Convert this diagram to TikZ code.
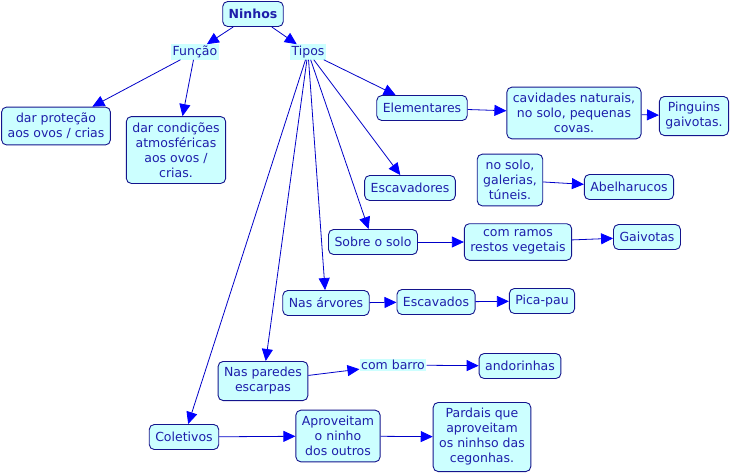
\documentclass[tikz,border=0pt]{standalone}
\usepackage{fontspec}
\setmainfont{DejaVu Sans}
\usetikzlibrary{arrows.meta}
\definecolor{txtblue}{RGB}{30,30,170}
\definecolor{boxline}{RGB}{20,20,140}
\definecolor{boxfill}{RGB}{204,255,255}
\definecolor{linkblue}{RGB}{0,0,200}
\tikzset{
  box/.style={draw=boxline,fill=boxfill,rounded corners=5pt,line width=0.9pt,
    text=txtblue,align=center,inner xsep=6pt,inner ysep=6pt,minimum height=25pt,
    font=\fontsize{12.5}{15}\selectfont},
  lab/.style={fill=boxfill,text=txtblue,inner sep=1.5pt,
    font=\fontsize{12.5}{15}\selectfont},
  link/.style={draw=linkblue,line width=0.8pt,
    -{Triangle[length=12pt,width=11pt,fill=blue,color=blue]}}
}

\begin{document}
\begin{tikzpicture}[x=1pt,y=-1pt]
\useasboundingbox (0,0) rectangle (732,475);
\node[box,font=\fontsize{12.5}{15}\selectfont\bfseries] (ninhos) at (253,14) {Ninhos};
\node[lab] (funcao) at (195,52) {Função};
\node[lab] (tipos) at (308,52) {Tipos};
\node[box] (protecao) at (56,126) {dar proteção\\aos ovos / crias};
\node[box] (condicoes) at (176,150) {dar condições\\atmosféricas\\aos ovos /\\crias.};
\node[box] (element) at (422,108) {Elementares};
\node[box] (cavidades) at (574,113) {cavidades naturais,\\no solo, pequenas\\covas.};
\node[box] (pinguins) at (694,116) {Pinguins\\gaivotas.};
\node[box] (escavadores) at (410,188) {Escavadores};
\node[box] (galerias) at (510,180) {no solo,\\galerias,\\túneis.};
\node[box] (abelh) at (629,187) {Abelharucos};
\node[box] (sobre) at (373,242) {Sobre o solo};
\node[box] (ramos) at (518,242) {com ramos\\restos vegetais};
\node[box] (gaiv) at (647,237) {Gaivotas};
\node[box] (arvores) at (326,303) {Nas árvores};
\node[box] (escavados) at (436,302) {Escavados};
\node[box] (picapau) at (542,301) {Pica-pau};
\node[box] (paredes) at (263,381) {Nas paredes\\escarpas};
\node[lab] (barro) at (393,365) {com barro};
\node[box] (andor) at (520,366) {andorinhas};
\node[box] (coletivos) at (184,437) {Coletivos};
\node[box] (aprov) at (338,436) {Aproveitam\\o ninho\\dos outros};
\node[box] (pardais) at (482,437) {Pardais que\\aproveitam\\os ninhso das\\cegonhas.};
% ligacoes
\path[link] (ninhos) -- (funcao);
\path[link] (ninhos) -- (tipos);
\path[link] (funcao) -- (protecao);
\path[link] (funcao) -- (condicoes);
\path[link] (tipos) -- (element);
\path[link] (tipos) -- (escavadores);
\path[link] (tipos) -- (sobre);
\path[link] (tipos) -- (arvores);
\path[link] (tipos) -- (paredes);
\path[link] (tipos) -- (coletivos);
\path[link] (element) -- (cavidades);
\path[link] (cavidades) -- (pinguins);
\path[link] (galerias) -- (abelh);
\path[link] (sobre) -- (ramos);
\path[link] (ramos) -- (gaiv);
\path[link] (arvores) -- (escavados);
\path[link] (escavados) -- (picapau);
\path[link] (paredes) -- (barro);
\path[link] (barro) -- (andor);
\path[link] (coletivos) -- (aprov);
\path[link] (aprov) -- (pardais);
\end{tikzpicture}
\end{document}
